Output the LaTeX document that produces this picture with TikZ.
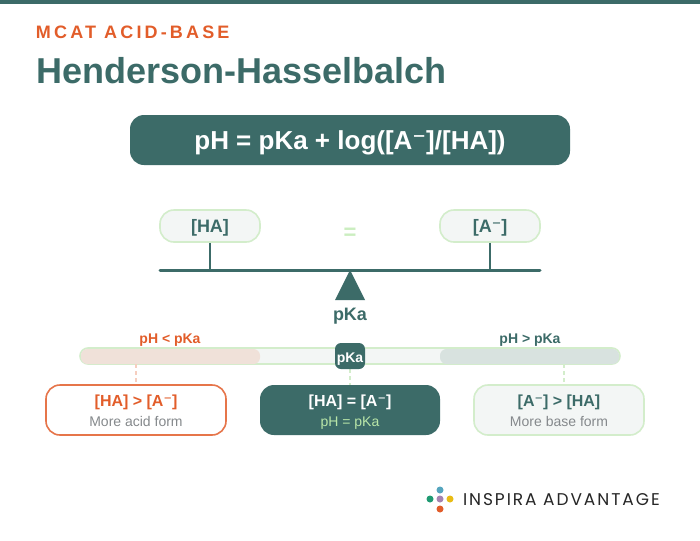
\documentclass[tikz,border=0pt]{standalone}
\usepackage{fontspec}
\setmainfont{Liberation Sans}
\newfontfamily\logofont{Poppins}
\newfontfamily\supfont{DejaVu Sans}
\newcommand{\supm}{{\supfont ⁻}}
\definecolor{teal1}{HTML}{3C6B68}
\definecolor{orange1}{HTML}{E25D2A}
\definecolor{mint}{HTML}{D3EDCB}
\definecolor{eqgreen}{HTML}{CBEEC0}
\definecolor{pale}{HTML}{F3F6F5}
\definecolor{greytxt}{HTML}{85898C}
\definecolor{lightgreen}{HTML}{B9E6A8}
\definecolor{acidfill}{HTML}{F0E1D9}
\definecolor{basefill}{HTML}{D8E2DF}
\definecolor{dotblue}{HTML}{55A5BE}
\definecolor{dotgreen}{HTML}{1F9A72}
\definecolor{dotpurple}{HTML}{A583B0}
\definecolor{dotyellow}{HTML}{E9BC14}
\newcommand{\fz}[1]{\fontsize{\dimexpr#1pt*3/4\relax}{\dimexpr#1pt*9/10\relax}\selectfont}
\tikzset{
  x=0.75pt,y=-0.75pt,
  txt/.style={inner sep=0pt,outer sep=0pt,anchor=center},
  pill/.style={minimum width=100*0.75pt,minimum height=32*0.75pt,rounded corners=14*0.75pt,draw=mint,fill=pale,line width=1.2pt,inner sep=0pt},
  card/.style={minimum width=180*0.75pt,minimum height=50*0.75pt,rounded corners=14*0.75pt,line width=1.2pt,inner sep=0pt},
  beam/.style={draw=teal1,line width=2.25pt},
  dash1/.style={line width=1.5pt,dash pattern=on 3pt off 2.25pt},
  dot/.style={circle,minimum size=7*0.75pt,inner sep=0pt,outer sep=0pt},
}
\begin{document}
\begin{tikzpicture}
\useasboundingbox (0,0) rectangle (700,540);
\fill[white] (0,0) rectangle (700,540);
\fill[teal1] (0,0) rectangle (700,4);
\node[txt,anchor=base west,text=orange1] (eyebrow) at (36,38) {\fz{18}\bfseries\addfontfeature{LetterSpace=17.5}MCAT ACID-BASE};
\node[txt,anchor=base west,text=teal1] (title) at (36.5,83) {\fz{36}\bfseries Henderson-Hasselbalch};
\node[fill=teal1,rounded corners=14*0.75pt,minimum width=440*0.75pt,minimum height=50*0.75pt,inner sep=0pt] (formula) at (350,140) {};
\node[txt,anchor=base,text=white,font=\fz{26}\bfseries] (ftext) at (350,149) {pH = pKa + log([A\supm]/[HA])};

\coordinate (bl) at (160,270);
\coordinate (br) at (540,270);
\coordinate (bm) at (350,270);
\draw[beam,line cap=round] (bl) -- (br);
\node[pill] (ha) at (210,226) {};
\node[pill] (am) at (490,226) {};
\node[txt,anchor=base,text=teal1,font=\fz{18}\bfseries] (hat) at (210,232) {[HA]};
\node[txt,anchor=base,text=teal1,font=\fz{18}\bfseries] (amt) at (490,232) {[A\supm]};
\coordinate (hab) at (210,270);
\coordinate (amb) at (490,270);
\draw[teal1,line width=1.5pt] (ha) -- (hab);
\draw[teal1,line width=1.5pt] (am) -- (amb);
\node[txt,anchor=base,text=eqgreen,font=\fz{22}\bfseries] (eq) at (350,239) {=};
\fill[teal1] (bm) -- (365,300) -- (335,300) -- cycle;
\node[txt,anchor=base,text=teal1,font=\fz{18}\bfseries] (pk) at (350,320) {pKa};

\node[draw=mint,fill=pale,line width=1.2pt,rounded corners=8*0.75pt,minimum width=540*0.75pt,minimum height=16*0.75pt,inner sep=0pt] (bar) at (350,356) {};
\fill[acidfill,rounded corners=6.5*0.75pt] (81,349) rectangle (260,364);
\fill[basefill,rounded corners=6.5*0.75pt] (440,349) rectangle (619,364);
\node[txt,anchor=base,text=orange1,font=\fz{14}\bfseries] (lt) at (170,343) {pH < pKa};
\node[txt,anchor=base,text=teal1,font=\fz{14}\bfseries] (gt) at (530,343) {pH > pKa};

\node[card,draw=orange1!85!white,fill=white] (c1) at (136,410) {};
\node[card,fill=teal1] (c2) at (350,410) {};
\node[card,draw=mint,fill=pale,minimum width=170*0.75pt] (c3) at (559,410) {};
\coordinate (d1) at (136,364);
\coordinate (d2) at (350,369);
\coordinate (d3) at (564,364);
\draw[dash1,draw=orange1!30!white] (d1) -- (136,384);
\draw[dash1,draw=mint] (d2) -- (350,385);
\draw[dash1,draw=mint] (d3) -- (564,384);
\node[fill=teal1,rounded corners=6*0.75pt,minimum width=30*0.75pt,minimum height=26*0.75pt,inner sep=0pt] (marker) at (350,356) {};
\node[txt,anchor=base,text=white,font=\fz{14}\bfseries] (markert) at (350,362) {pKa};

\node[txt,anchor=base,text=orange1,font=\fz{16}\bfseries] at (136,406) {[HA] > [A\supm]};
\node[txt,anchor=base,text=greytxt,font=\fz{14}] at (136,426) {More acid form};
\node[txt,anchor=base,text=white,font=\fz{16}\bfseries] at (350,406) {[HA] = [A\supm]};
\node[txt,anchor=base,text=lightgreen,font=\fz{14}] at (350,426) {pH = pKa};
\node[txt,anchor=base,text=teal1,font=\fz{16}\bfseries] at (559,406) {[A\supm] > [HA]};
\node[txt,anchor=base,text=greytxt,font=\fz{14}] at (559,426) {More base form};

\node[dot,fill=dotblue] (l1) at (440,490) {};
\node[dot,fill=dotgreen] (l2) at (430,499) {};
\node[dot,fill=dotpurple] (l3) at (440,499) {};
\node[dot,fill=dotyellow] (l4) at (450,499) {};
\node[dot,fill=orange1] (l5) at (440,509) {};
\node[txt,anchor=base west,text=black!85] (logo) at (463,505) {\logofont\fz{17}\addfontfeature{LetterSpace=11.5}INSPIRA ADVANTAGE};
\end{tikzpicture}
\end{document}
